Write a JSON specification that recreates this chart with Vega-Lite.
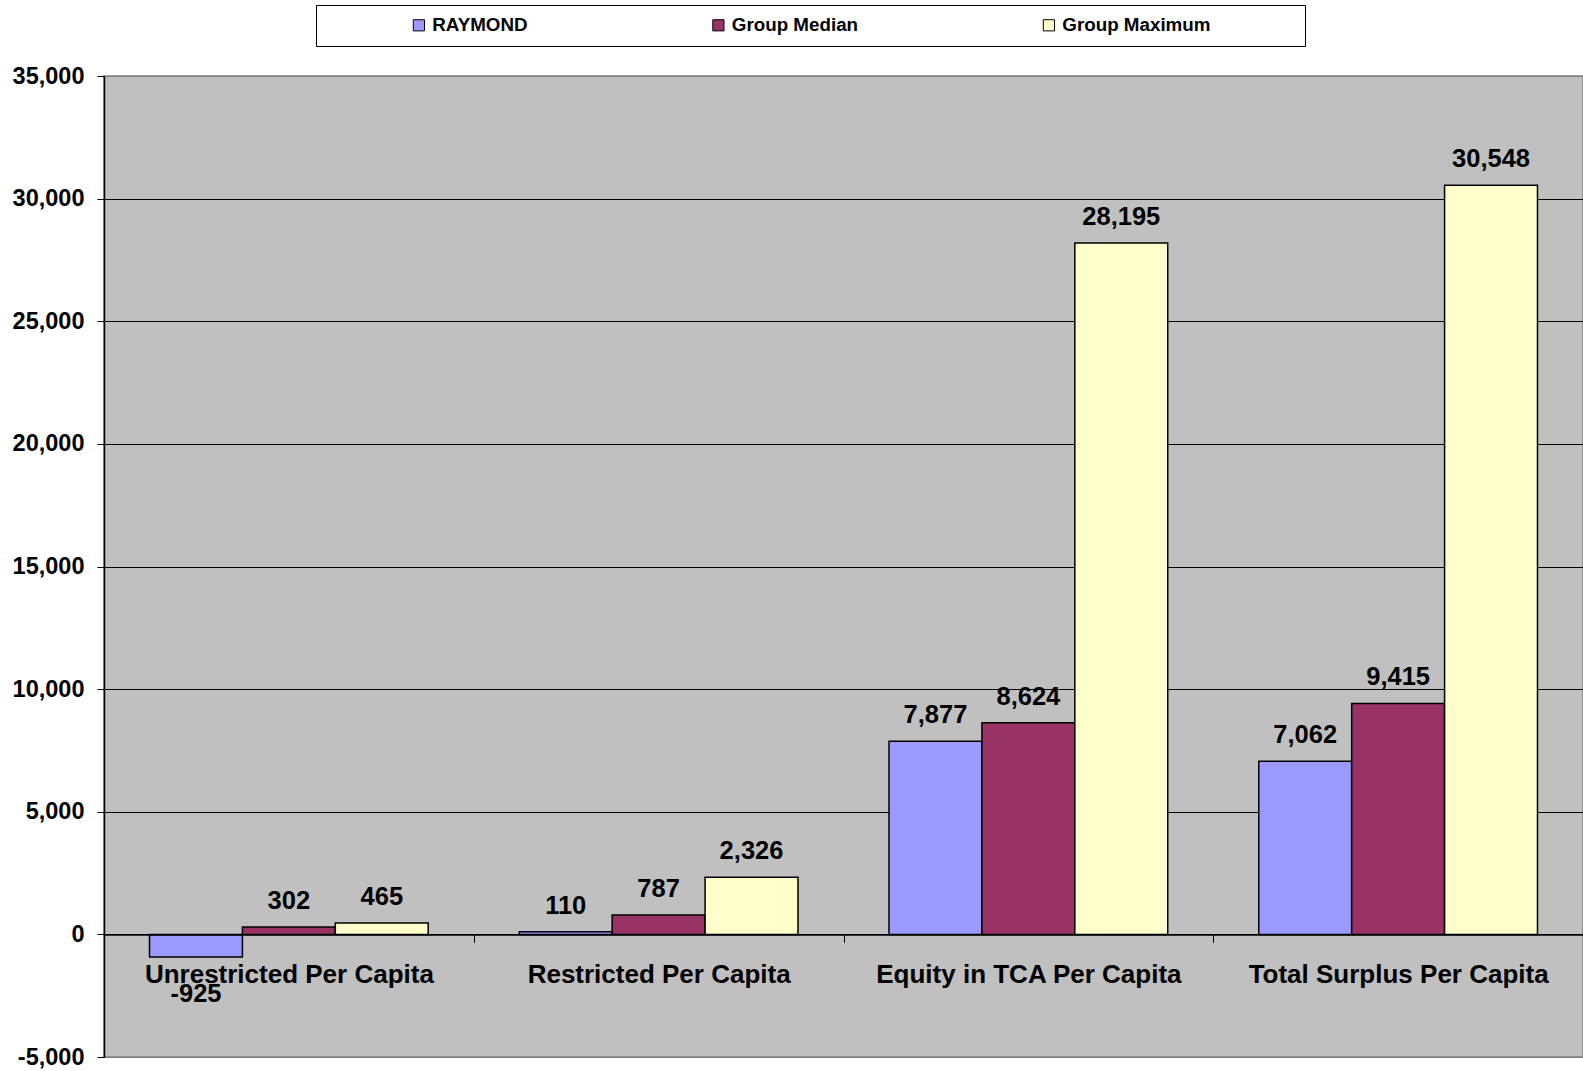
{
  "$schema": "https://vega.github.io/schema/vega-lite/v6.json",
  "width": 1479,
  "height": 981,
  "autosize": {"type": "none"},
  "padding": {"left": 104, "top": 76, "right": 0, "bottom": 14},
  "background": "white",
  "config": {
    "font": "Liberation Sans",
    "locale": {"number": {"decimal": ".", "thousands": ",", "grouping": [3], "currency": ["$", ""], "minus": "-"}},
    "view": {"fill": "#C0C0C0", "stroke": "#808080", "strokeWidth": 1.5}
  },
  "data": {
    "values": [
      {"category": "Unrestricted Per Capita", "series": "RAYMOND", "value": -925},
      {"category": "Unrestricted Per Capita", "series": "Group Median", "value": 302},
      {"category": "Unrestricted Per Capita", "series": "Group Maximum", "value": 465},
      {"category": "Restricted Per Capita", "series": "RAYMOND", "value": 110},
      {"category": "Restricted Per Capita", "series": "Group Median", "value": 787},
      {"category": "Restricted Per Capita", "series": "Group Maximum", "value": 2326},
      {"category": "Equity in TCA Per Capita", "series": "RAYMOND", "value": 7877},
      {"category": "Equity in TCA Per Capita", "series": "Group Median", "value": 8624},
      {"category": "Equity in TCA Per Capita", "series": "Group Maximum", "value": 28195},
      {"category": "Total Surplus Per Capita", "series": "RAYMOND", "value": 7062},
      {"category": "Total Surplus Per Capita", "series": "Group Median", "value": 9415},
      {"category": "Total Surplus Per Capita", "series": "Group Maximum", "value": 30548}
    ]
  },
  "encoding": {
    "x": {
      "field": "category",
      "type": "nominal",
      "sort": ["Unrestricted Per Capita", "Restricted Per Capita", "Equity in TCA Per Capita", "Total Surplus Per Capita"],
      "scale": {"paddingInner": 0, "paddingOuter": 0},
      "axis": {
        "orient": "bottom",
        "offset": -122.6,
        "title": null,
        "labelAngle": 0,
        "labelFontSize": 26,
        "labelFontWeight": "bold",
        "labelColor": "black",
        "labelPadding": 19,
        "labelLimit": 0,
        "tickBand": "extent",
        "tickSize": 8,
        "tickColor": "black",
        "domainColor": "black",
        "domainWidth": 1.5,
        "grid": false,
        "zindex": 1
      }
    },
    "xOffset": {
      "field": "series",
      "type": "nominal",
      "sort": ["RAYMOND", "Group Median", "Group Maximum"],
      "scale": {"paddingInner": 0, "paddingOuter": 0.49}
    },
    "y": {
      "field": "value",
      "type": "quantitative",
      "scale": {"domain": [-5000, 35000], "nice": false, "zero": false},
      "axis": {
        "title": null,
        "values": [-5000, 0, 5000, 10000, 15000, 20000, 25000, 30000, 35000],
        "format": ",d",
        "labelFontSize": 23.5,
        "labelFontWeight": "bold",
        "labelColor": "black",
        "labelPadding": 13,
        "tickSize": 7,
        "tickColor": "black",
        "domainColor": "black",
        "domainWidth": 1.5,
        "grid": true,
        "gridColor": {"condition": {"test": "datum.value === 35000 || datum.value === -5000", "value": "#808080"}, "value": "black"},
        "gridWidth": 1.2
      }
    }
  },
  "layer": [
    {
      "mark": {"type": "bar", "stroke": "black", "strokeWidth": 1.5},
      "encoding": {
        "color": {
          "field": "series",
          "type": "nominal",
          "scale": {"domain": ["RAYMOND", "Group Median", "Group Maximum"], "range": ["#9999FF", "#993366", "#FFFFCC"]},
          "legend": {
            "orient": "none",
            "legendX": 212,
            "legendY": -71,
            "direction": "horizontal",
            "title": " ",
            "titleOrient": "right",
            "titlePadding": 84,
            "titleFontSize": 18,
            "labelFontSize": 18.8,
            "labelFontWeight": "bold",
            "labelColor": "black",
            "labelOffset": 4,
            "symbolType": "square",
            "symbolSize": 125,
            "symbolStrokeColor": "black",
            "symbolStrokeWidth": 1,
            "symbolOffset": 83,
            "strokeColor": "black",
            "fillColor": "white",
            "padding": 10.5,
            "columnPadding": 97.5
          }
        }
      }
    },
    {
      "transform": [{"filter": "datum.value >= 0"}],
      "mark": {"type": "text", "baseline": "alphabetic", "dy": -18, "fontSize": 25.5, "fontWeight": "bold", "color": "black"},
      "encoding": {"text": {"field": "value", "type": "quantitative", "format": ",d"}}
    },
    {
      "transform": [{"filter": "datum.value < 0"}],
      "mark": {"type": "text", "baseline": "alphabetic", "dy": 45, "fontSize": 25.5, "fontWeight": "bold", "color": "black"},
      "encoding": {"text": {"field": "value", "type": "quantitative", "format": ",d"}}
    }
  ]
}
